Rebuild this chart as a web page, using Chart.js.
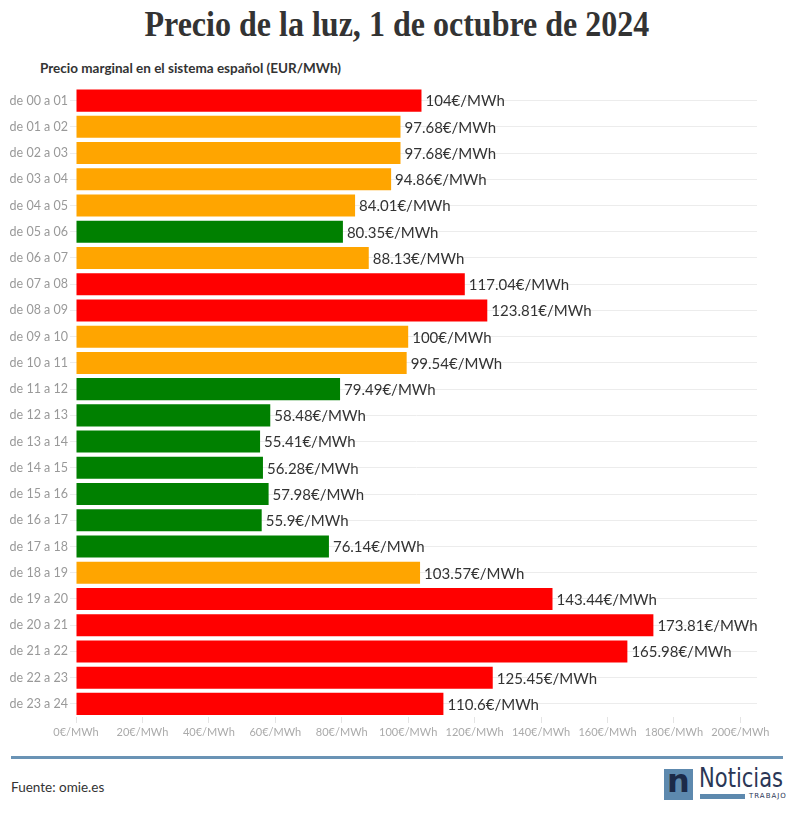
<!DOCTYPE html>
<html><head><meta charset="utf-8">
<script src="https://cdn.jsdelivr.net/npm/chart.js@4/dist/chart.umd.min.js"></script>
<style>
html,body{margin:0;padding:0;background:#fff;}
body{width:794px;height:817px;position:relative;overflow:hidden;font-family:Lato,"Open Sans",sans-serif;}
#title{position:absolute;left:0;width:794px;top:5px;text-align:center;}
#title span{display:inline-block;font-family:"Liberation Serif",serif;font-weight:bold;font-size:35px;color:#333;transform:scaleX(0.915);transform-origin:center;white-space:nowrap;}
#sub{position:absolute;left:40px;top:60px;font-family:Lato,sans-serif;font-weight:bold;font-size:13.5px;color:#333;}
#wrap{position:absolute;left:0;top:78px;width:794px;height:666px;}
#rule{position:absolute;left:11px;top:756px;width:772px;height:3px;background:#6a93b5;}
#src{position:absolute;left:11px;top:779px;font-size:13.5px;color:#333;font-family:Lato,sans-serif;}
#logo-box{position:absolute;left:664px;top:769px;width:29px;height:31px;background:#5d89ae;}
#logo-n{position:absolute;left:664px;top:761px;width:29px;text-align:center;font-family:"DejaVu Sans",sans-serif;font-weight:bold;font-size:32px;color:#1c2a48;line-height:40px;}
#logo-t{position:absolute;left:699px;top:763px;font-family:"DejaVu Sans",sans-serif;font-size:27px;color:#2b3756;line-height:30px;transform:scaleX(0.78);transform-origin:left center;white-space:nowrap;}
#logo-bar{position:absolute;left:700px;top:794px;width:45px;height:5px;background:#5d89ae;}
#logo-s{position:absolute;left:749px;top:792px;font-family:"DejaVu Sans",sans-serif;font-size:7px;color:#2b3756;letter-spacing:1px;}
</style></head>
<body>
<div id="title"><span>Precio de la luz, 1 de octubre de 2024</span></div>
<div id="sub">Precio marginal en el sistema español (EUR/MWh)</div>
<div id="wrap"><canvas id="c"></canvas></div>
<div id="rule"></div>
<div id="src">Fuente: omie.es</div>
<div id="logo-box"></div>
<div id="logo-n">n</div>
<div id="logo-t">Noticias</div>
<div id="logo-bar"></div>
<div id="logo-s">TRABAJO</div>
<script>
const categories = ["de 00 a 01","de 01 a 02","de 02 a 03","de 03 a 04","de 04 a 05","de 05 a 06","de 06 a 07","de 07 a 08","de 08 a 09","de 09 a 10","de 10 a 11","de 11 a 12","de 12 a 13","de 13 a 14","de 14 a 15","de 15 a 16","de 16 a 17","de 17 a 18","de 18 a 19","de 19 a 20","de 20 a 21","de 21 a 22","de 22 a 23","de 23 a 24"];
const prices = [104,97.68,97.68,94.86,84.01,80.35,88.13,117.04,123.81,100,99.54,79.49,58.48,55.41,56.28,57.98,55.9,76.14,103.57,143.44,173.81,165.98,125.45,110.6];
const levels = ["alto","medio","medio","medio","medio","bajo","medio","alto","alto","medio","medio","bajo","bajo","bajo","bajo","bajo","bajo","bajo","medio","alto","alto","alto","alto","alto"];
const xTicks = [0,20,40,60,80,100,120,140,160,180,200];
const unit = "€/MWh";
const levelColors = {alto:"#ff0000", medio:"#ffa500", bajo:"#008000"};

const valueLabels = {
  id:"valueLabels",
  afterDatasetsDraw(chart){
    const ctx = chart.ctx;
    const meta = chart.getDatasetMeta(0);
    ctx.save();
    ctx.font = "15px Lato, sans-serif";
    ctx.fillStyle = "#333";
    ctx.textBaseline = "middle";
    ctx.textAlign = "left";
    meta.data.forEach((bar,i)=>{
      ctx.fillText(prices[i] + unit, bar.x + 4, bar.y + 1);
    });
    ctx.restore();
  }
};

new Chart(document.getElementById("c"),{
  type:"bar",
  data:{labels:categories,datasets:[{data:prices,backgroundColor:levels.map(l=>levelColors[l]),barPercentage:0.84,categoryPercentage:1,borderWidth:0}]},
  options:{
    indexAxis:"y",
    responsive:true,maintainAspectRatio:false,animation:false,
    layout:{padding:{top:0,right:37,bottom:0,left:0}},
    plugins:{legend:{display:false},tooltip:{enabled:false}},
    scales:{
      x:{min:0,max:205,
        afterBuildTicks(s){s.ticks = xTicks.map(v=>({value:v}));},
        afterFit(s){s.height=27;},
        border:{display:false},
        grid:{drawOnChartArea:false,drawTicks:true,tickLength:6,color:"#e4e4e4"},
        ticks:{padding:3,color:"#aaa",font:{family:"Lato, sans-serif",size:11},callback:v=>v+unit,maxRotation:0,autoSkip:false}
      },
      y:{
        afterFit(s){s.width=76;},
        border:{display:false},
        grid:{offset:false,color:"#ececec",drawTicks:true,tickLength:6},
        ticks:{padding:2,color:"#999",font:{family:"Lato, sans-serif",size:12.5},autoSkip:false}
      }
    }
  },
  plugins:[valueLabels]
});
</script>
</body></html>
